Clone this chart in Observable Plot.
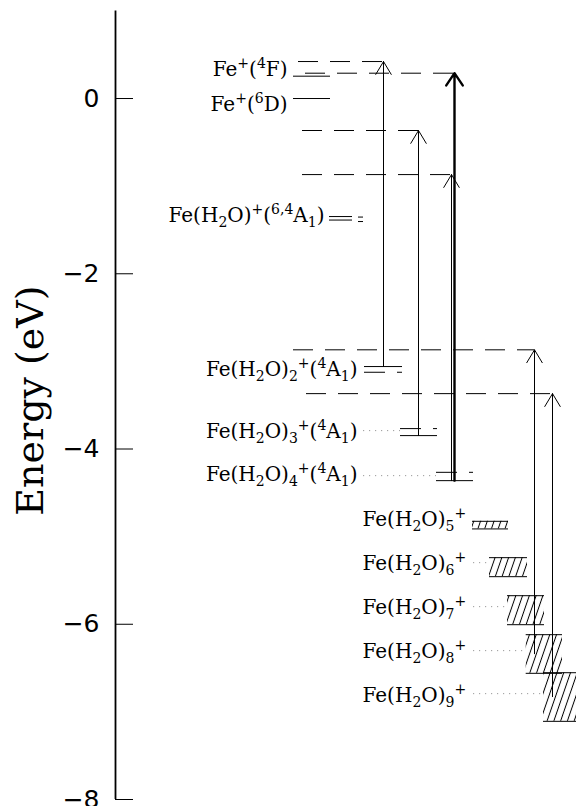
<!DOCTYPE html>
<html>
<head>
<meta charset="utf-8">
<script src="https://cdn.jsdelivr.net/npm/d3@7"></script>
<script src="https://cdn.jsdelivr.net/npm/@observablehq/plot@0.6"></script>
<style>
  html, body { margin: 0; padding: 0; background: #fff; overflow: hidden; }
</style>
</head>
<body>
<div id="chart"></div>
<script>
// ---------- data (energies in eV) ----------
const yDomain = [-8, 1];
const yTicks = [0, -2, -4, -6, -8];
const yLabel = "Energy (eV)";

// species labels (markup: _ subscript, ^ superscript)
const speciesLabels = [
  "Fe^{+}(^{4}F)",
  "Fe^{+}(^{6}D)",
  "Fe(H_{2}O)^{+}(^{6,4}A_{1})",
  "Fe(H_{2}O)_{2}^{+}(^{4}A_{1})",
  "Fe(H_{2}O)_{3}^{+}(^{4}A_{1})",
  "Fe(H_{2}O)_{4}^{+}(^{4}A_{1})",
  "Fe(H_{2}O)_{5}^{+}",
  "Fe(H_{2}O)_{6}^{+}",
  "Fe(H_{2}O)_{7}^{+}",
  "Fe(H_{2}O)_{8}^{+}",
  "Fe(H_{2}O)_{9}^{+}"
];
const labelEnergy = [0.334, -0.068, -1.336, -3.093, -3.796, -4.292, -4.806, -5.302, -5.810, -6.307, -6.809];

// discrete levels (eV)
const levelEnergy = [0.255, 0, -1.347, -1.387, -1.353, -1.404, -3.059, -3.124, -3.124, -3.767, -3.767, -3.847, -4.266, -4.266, -4.361];

// cluster bands n = 5..9 (eV)
const clusterN = [5, 6, 7, 8, 9];
const clusterTop = [-4.825, -5.240, -5.674, -6.119, -6.553];
const clusterBottom = [-4.912, -5.457, -6.005, -6.560, -7.108];

// photon excitations (eV)
const arrowFrom = [-3.059, -3.847, -4.361, -4.361, -6.336, -6.826];
const arrowTo = [0.422, -0.365, 0.289, -0.868, -2.868, -3.368];
const arrowThick = [false, false, true, false, false, false];

// dotted leaders (eV)
const leaderEnergy = [-3.790, -4.304, -5.297, -5.799, -6.301, -6.792];

// ---------- layout (horizontal diagram positions, px) ----------
const labelX = [287, 287, 324, 357, 357, 357, 362, 362, 362, 362, 362];
const labelEndAnchored = [true, true, true, true, true, true, false, false, false, false, false];
const levelX1 = [293, 293, 329, 329, 358, 358, 364, 364, 397, 400, 433, 400, 436, 469, 436];
const levelX2 = [330, 330, 352, 352, 363, 363, 402, 385, 402, 421, 437, 437, 457, 473, 473];
const clusterX1 = [472, 489, 507, 525.7, 543];
const clusterX2 = [508, 527, 544, 562, 580];
const arrowX = [383, 418, 454, 451, 534, 552];
const dashX1 = [298, 302, 305, 302, 293, 306];
const leaderX1 = [363, 363, 473, 473, 473, 473];
const leaderX2 = [400, 436, 489, 507, 525.7, 543];
const axisX = 115, tickLen = 18;

const serif = "DejaVu Serif";

const chart = Plot.plot({
  width: 576,
  height: 806,
  marginTop: 10.4,
  marginBottom: 7,
  marginLeft: 0,
  marginRight: 0,
  x: {domain: [0, 576], axis: null},
  y: {domain: yDomain, axis: null},
  marks: [
    // axis
    Plot.ruleX([axisX], {x: d => d, y1: () => yDomain[0], y2: () => yDomain[1], stroke: "#000", strokeWidth: 1.8}),
    Plot.ruleY(yTicks, {y: d => d, x1: () => axisX, x2: () => axisX + tickLen, stroke: "#000", strokeWidth: 1}),
    Plot.text(yTicks, {
      y: d => d, x: () => axisX, dx: -16,
      text: d => (d < 0 ? "\u2212" : "") + Math.abs(d),
      textAnchor: "end", fontFamily: "DejaVu Sans", fontSize: 25, fill: "#000"
    }),
    Plot.text([yLabel], {
      x: () => 30, y: () => -3.447, text: d => d, rotate: -90,
      fontFamily: serif, fontSize: 38, fill: "#000"
    }),

    // hatched cluster bands
    Plot.rect(clusterN, {
      x1: (d, i) => clusterX1[i], x2: (d, i) => clusterX2[i],
      y1: (d, i) => clusterTop[i], y2: (d, i) => clusterBottom[i],
      fill: "url(#hatch)", clip: true
    }),
    Plot.ruleY(clusterN, {y: (d, i) => clusterTop[i], x1: (d, i) => clusterX1[i], x2: (d, i) => clusterX2[i], stroke: "#000", strokeWidth: 1, clip: true}),
    Plot.ruleY(clusterN, {y: (d, i) => clusterBottom[i], x1: (d, i) => clusterX1[i], x2: (d, i) => clusterX2[i], stroke: "#000", strokeWidth: 1, clip: true}),

    // discrete levels
    Plot.ruleY(levelEnergy, {y: d => d, x1: (d, i) => levelX1[i], x2: (d, i) => levelX2[i], stroke: "#000", strokeWidth: 1}),

    // dotted leaders
    Plot.ruleY(leaderEnergy, {y: d => d, x1: (d, i) => leaderX1[i], x2: (d, i) => leaderX2[i], stroke: "#999", strokeWidth: 1, strokeDasharray: "1.2,4.8"}),

    // dashed final-state lines
    Plot.ruleY(arrowTo, {y: d => d, x1: (d, i) => dashX1[i], x2: (d, i) => arrowX[i], stroke: "#000", strokeWidth: 1, strokeDasharray: "20,12"}),

    // photon arrows
    Plot.arrow(arrowTo, {
      filter: (d, i) => !arrowThick[i],
      x1: (d, i) => arrowX[i], x2: (d, i) => arrowX[i],
      y1: (d, i) => arrowFrom[i], y2: d => d,
      stroke: "#000", strokeWidth: 1, headLength: 22.5, headAngle: 62
    }),
    Plot.arrow(arrowTo, {
      filter: (d, i) => arrowThick[i],
      x1: (d, i) => arrowX[i], x2: (d, i) => arrowX[i],
      y1: (d, i) => arrowFrom[i], y2: d => d,
      stroke: "#000", strokeWidth: 2.4, headLength: 9.2, headAngle: 68
    }),

    // labels
    Plot.text(speciesLabels, {
      filter: (d, i) => labelEndAnchored[i],
      x: (d, i) => labelX[i], y: (d, i) => labelEnergy[i], text: d => d,
      textAnchor: "end", fontFamily: serif, fontSize: 20, fill: "#000"
    }),
    Plot.text(speciesLabels, {
      filter: (d, i) => !labelEndAnchored[i],
      x: (d, i) => labelX[i], y: (d, i) => labelEnergy[i], text: d => d,
      textAnchor: "start", fontFamily: serif, fontSize: 20, fill: "#000"
    })
  ]
});

// hatch pattern
const svg = d3.select(chart);
svg.insert("defs", ":first-child").html(
  '<pattern id="hatch" patternUnits="userSpaceOnUse" width="6.4" height="12" patternTransform="rotate(19)">' +
  '<line x1="3.2" y1="-1" x2="3.2" y2="13" stroke="#000" stroke-width="1"/></pattern>'
);

// rich text: subscripts / superscripts
function parseMarkup(s) {
  const segs = [];
  let i = 0;
  while (i < s.length) {
    const c = s[i];
    if (c === "_" || c === "^") {
      let t;
      if (s[i + 1] === "{") { const j = s.indexOf("}", i); t = s.slice(i + 2, j); i = j + 1; }
      else { t = s[i + 1]; i += 2; }
      segs.push({t, mode: c});
    } else {
      let j = i;
      while (j < s.length && s[j] !== "_" && s[j] !== "^") j++;
      segs.push({t: s.slice(i, j), mode: ""});
      i = j;
    }
  }
  return segs;
}
const SUB = 5, SUP = -8, SMALL = 14;
svg.selectAll("text").each(function () {
  const s = this.textContent;
  if (!/[_^]/.test(s)) return;
  const segs = parseMarkup(s);
  this.textContent = "";
  let cur = 0;
  for (const seg of segs) {
    const target = seg.mode === "_" ? SUB : seg.mode === "^" ? SUP : 0;
    const t = document.createElementNS("http://www.w3.org/2000/svg", "tspan");
    if (target !== cur) t.setAttribute("dy", target - cur);
    if (seg.mode) t.setAttribute("font-size", SMALL);
    t.textContent = seg.t;
    this.appendChild(t);
    cur = target;
  }
});

document.getElementById("chart").appendChild(chart);
</script>
</body>
</html>
